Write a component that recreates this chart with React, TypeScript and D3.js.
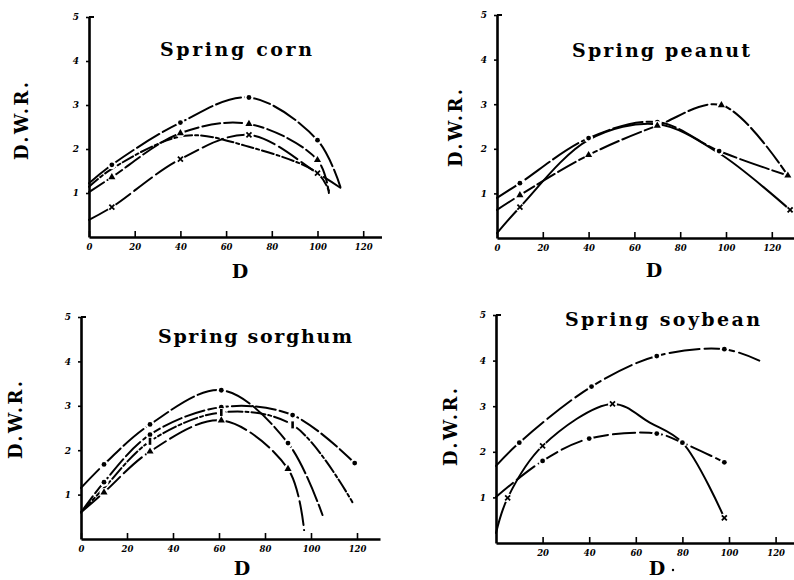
import React, { useEffect, useRef } from 'react';
import * as d3 from 'd3';

// [D, D.W.R., marker shown]
type Pt = [number, number, number];

const cornDot: Pt[] = [[0, 1.22, 0], [10, 1.64, 1], [40, 2.6, 1], [70, 3.17, 1], [100, 2.2, 1], [110, 1.14, 0]];
const cornTri: Pt[] = [[0, 1.02, 0], [10, 1.36, 1], [40, 2.36, 1], [70, 2.57, 1], [100, 1.75, 1], [105, 1.0, 0]];
const cornCross: Pt[] = [[0, 0.39, 0], [10, 0.68, 1], [40, 1.77, 1], [70, 2.32, 1], [100, 1.45, 1], [110, 1.12, 0]];
const cornPlain: Pt[] = [[0, 1.14, 0], [10, 1.55, 0], [42, 2.3, 0], [70, 2.05, 0], [100, 1.45, 0], [105, 1.05, 0]];

const peanutDot: Pt[] = [[0, 0.9, 0], [10, 1.23, 1], [40, 2.24, 1], [70, 2.6, 1], [97, 1.95, 1], [127, 1.4, 0]];
const peanutTri: Pt[] = [[0, 0.63, 0], [10, 0.96, 1], [40, 1.86, 1], [70, 2.52, 1], [98, 2.98, 1], [127, 1.4, 1]];
const peanutCross: Pt[] = [[0, 0.11, 0], [10, 0.69, 1], [40, 2.2, 0], [70, 2.55, 0], [97, 1.9, 0], [128, 0.63, 1]];

const sorghumDot1: Pt[] = [[0, 1.15, 0], [10, 1.68, 1], [30, 2.58, 1], [61, 3.35, 1], [90, 2.16, 1], [105, 0.54, 0]];
const sorghumDot2: Pt[] = [[0, 0.6, 0], [10, 1.28, 1], [30, 2.35, 1], [61, 2.97, 1], [92, 2.79, 1], [119, 1.71, 1]];
const sorghumCross: Pt[] = [[0, 0.6, 0], [10, 1.15, 0], [30, 2.2, 1], [61, 2.85, 1], [92, 2.57, 1], [118, 0.83, 0]];
const sorghumTri: Pt[] = [[0, 0.6, 0], [10, 1.05, 1], [30, 1.97, 1], [61, 2.67, 1], [90, 1.58, 1], [97, 0.2, 0]];

const soybeanDot1: Pt[] = [[0, 1.69, 0], [10, 2.2, 1], [41, 3.43, 1], [69, 4.1, 1], [98, 4.25, 1], [113, 4.0, 0]];
const soybeanCross: Pt[] = [[0, 0.22, 0], [5, 0.99, 1], [20, 2.13, 1], [50, 3.05, 1], [66, 2.64, 0], [80, 2.2, 0], [98, 0.55, 1]];
const soybeanDot2: Pt[] = [[0, 1.01, 0], [20, 1.8, 1], [40, 2.29, 1], [69, 2.4, 1], [80, 2.2, 1], [98, 1.77, 1]];

const xTicksFull = [0, 20, 40, 60, 80, 100, 120];
const xTicksNoZero = [20, 40, 60, 80, 100, 120];
const yTicks = [1, 2, 3, 4, 5];

const PANELS = [
  {
    title: 'Spring corn', titleW: 152, x0: 89, kx: 2.285, xMax: 128, y0: 237, y5: 17, xTicks: xTicksFull,
    titleX: 160, titleY: 56, wrX: 22, wrY: 121, dX: 240, dY: 278, dDot: false,
    series: [
      { pts: cornDot, mark: 'dot', dash: '26,4' },
      { pts: cornTri, mark: 'tri', dash: '18,4' },
      { pts: cornCross, mark: 'cross', dash: '22,5' },
      { pts: cornPlain, mark: 'none', dash: '12,3,3,3' },
    ],
  },
  {
    title: 'Spring peanut', titleW: 178, x0: 497, kx: 2.29, xMax: 130, y0: 238, y5: 15, xTicks: xTicksFull,
    titleX: 572, titleY: 57, wrX: 456, wrY: 128, dX: 654, dY: 277, dDot: false,
    series: [
      { pts: peanutDot, mark: 'dot', dash: '30,4' },
      { pts: peanutTri, mark: 'tri', dash: '20,4' },
      { pts: peanutCross, mark: 'cross', dash: 'none' },
    ],
  },
  {
    title: 'Spring sorghum', titleW: 194, x0: 81, kx: 2.3, xMax: 130, y0: 539, y5: 317, xTicks: xTicksFull,
    titleX: 158, titleY: 343, wrX: 16, wrY: 420, dX: 242, dY: 575, dDot: false,
    series: [
      { pts: sorghumDot1, mark: 'dot', dash: '26,4' },
      { pts: sorghumDot2, mark: 'dot', dash: '20,4' },
      { pts: sorghumCross, mark: 'bar', dash: '14,3,3,3' },
      { pts: sorghumTri, mark: 'tri', dash: '24,5' },
    ],
  },
  {
    title: 'Spring soybean', titleW: 195, x0: 496, kx: 2.33, xMax: 130, y0: 543, y5: 315, xTicks: xTicksNoZero,
    titleX: 565, titleY: 326, wrX: 451, wrY: 427, dX: 657, dY: 575, dDot: true,
    series: [
      { pts: soybeanDot1, mark: 'dot', dash: '30,5' },
      { pts: soybeanCross, mark: 'cross', dash: 'none' },
      { pts: soybeanDot2, mark: 'dot', dash: '22,5' },
    ],
  },
];

const TYPE = '"DejaVu Serif", "Liberation Serif", serif';

export default function App() {
  const ref = useRef<SVGSVGElement>(null);

  useEffect(() => {
    const svg = d3.select(ref.current);
    svg.selectAll('*').remove();

    PANELS.forEach((p) => {
      const x = d3.scaleLinear().domain([0, p.xMax]).range([p.x0, p.x0 + p.xMax * p.kx]);
      const y = d3.scaleLinear().domain([0, 5]).range([p.y0, p.y5]);
      const g = svg.append('g');

      // x axis, ticks pointing up
      const xa = g.append('g')
        .attr('transform', `translate(0,${p.y0})`)
        .call(d3.axisBottom(x).tickValues(p.xTicks).tickSizeInner(-6).tickSizeOuter(0).tickPadding(7).tickFormat(d3.format('d')));
      xa.select('.domain').attr('stroke-width', 2.6);
      xa.selectAll('.tick line').attr('stroke-width', 1.6);
      xa.selectAll('.tick text')
        .attr('font-family', TYPE)
        .attr('font-style', 'italic')
        .attr('font-weight', 'bold')
        .attr('font-size', 8.5)
        .attr('fill', '#000');

      // y axis
      const ya = g.append('g')
        .attr('transform', `translate(${p.x0},0)`)
        .call(d3.axisLeft(y).tickValues(yTicks).tickSize(3).tickSizeOuter(0).tickPadding(7).tickFormat(d3.format('d')));
      ya.select('.domain').attr('stroke-width', 2.6);
      ya.selectAll('.tick line').attr('stroke-width', 1.6);
      ya.selectAll('.tick text')
        .attr('font-family', TYPE)
        .attr('font-style', 'italic')
        .attr('font-weight', 'bold')
        .attr('font-size', 9)
        .attr('fill', '#000');
      g.append('line')
        .attr('x1', p.x0).attr('x2', p.x0 + 5)
        .attr('y1', y(5)).attr('y2', y(5))
        .attr('stroke', '#000').attr('stroke-width', 2);

      const line = d3.line<Pt>()
        .x((d) => x(d[0]))
        .y((d) => y(d[1]))
        .curve(d3.curveCatmullRom.alpha(0.5));

      p.series.forEach((s) => {
        g.append('path')
          .attr('d', line(s.pts))
          .attr('fill', 'none')
          .attr('stroke', '#000')
          .attr('stroke-width', 2)
          .attr('stroke-dasharray', s.dash)
          .attr('stroke-linecap', 'round');
      });

      // gaps round the markers, then the markers
      p.series.forEach((s) => {
        if (s.mark === 'none') return;
        const pts = s.pts.filter((d) => d[2] === 1);
        g.selectAll(null).data(pts).enter().append('circle')
          .attr('cx', (d) => x(d[0])).attr('cy', (d) => y(d[1]))
          .attr('r', 4.5).attr('fill', '#fff');
        pts.forEach((d) => {
          const cx = x(d[0]);
          const cy = y(d[1]);
          if (s.mark === 'dot') {
            g.append('circle').attr('cx', cx).attr('cy', cy).attr('r', 2.4).attr('fill', '#000');
          } else if (s.mark === 'tri') {
            g.append('path')
              .attr('d', d3.symbol(d3.symbolTriangle, 22)())
              .attr('transform', `translate(${cx},${cy})`)
              .attr('fill', '#000');
          } else if (s.mark === 'cross') {
            g.append('path')
              .attr('d', d3.symbol(d3.symbolX, 18)())
              .attr('transform', `translate(${cx},${cy})`)
              .attr('stroke', '#000').attr('stroke-width', 1.8);
          } else {
            g.append('rect')
              .attr('x', cx - 1.3).attr('y', cy - 3.5)
              .attr('width', 2.6).attr('height', 7)
              .attr('fill', '#000');
          }
        });
      });

      g.append('text')
        .attr('x', p.titleX).attr('y', p.titleY)
        .attr('font-family', TYPE).attr('font-size', 19).attr('font-weight', 'bold')
        .attr('textLength', p.titleW).attr('lengthAdjust', 'spacing')
        .text(p.title);

      g.append('text')
        .attr('transform', `translate(${p.wrX},${p.wrY}) rotate(-90)`)
        .attr('text-anchor', 'middle').attr('dy', '0.36em')
        .attr('font-family', TYPE).attr('font-size', 18).attr('font-weight', 'bold')
        .attr('textLength', 78).attr('lengthAdjust', 'spacing')
        .text('D.W.R.');

      g.append('text')
        .attr('x', p.dX).attr('y', p.dY)
        .attr('text-anchor', 'middle')
        .attr('font-family', TYPE).attr('font-size', 19).attr('font-weight', 'bold')
        .text('D');
      if (p.dDot) {
        g.append('circle').attr('cx', p.dX + 16).attr('cy', p.dY - 5).attr('r', 1.2).attr('fill', '#000');
      }
    });
  }, []);

  return (
    <svg
      ref={ref}
      width={794}
      height={580}
      style={{ position: 'absolute', left: 0, top: 0, background: '#fff' }}
    />
  );
}
